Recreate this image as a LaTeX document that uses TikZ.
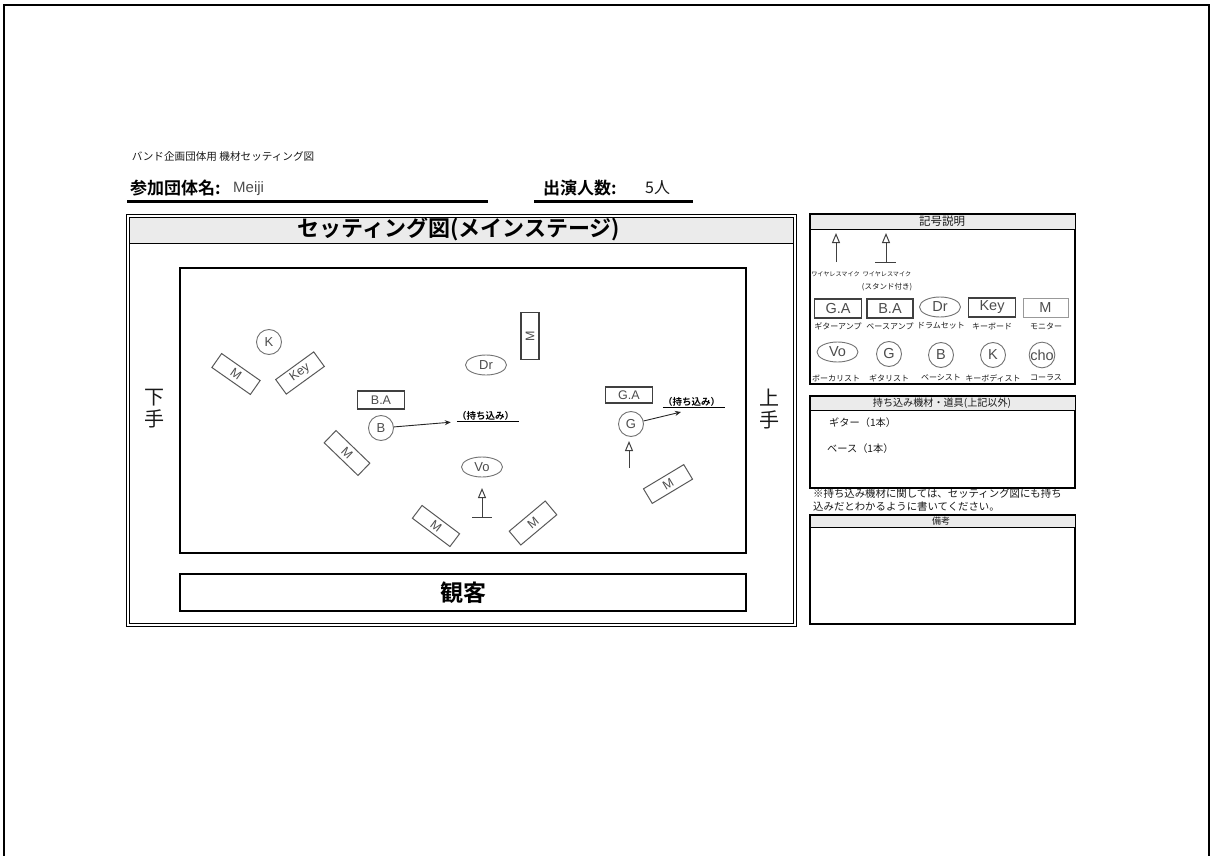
\documentclass[tikz,border=0pt]{standalone}
\usepackage{fontspec}
\setmainfont{Liberation Sans}
\newfontfamily\cjk{Noto Sans CJK JP}
\newfontfamily\cjkb{Noto Sans CJK JP Bold}
\usetikzlibrary{arrows.meta}
\usetikzlibrary{shapes.geometric}

\tikzset{
	txt/.style={font=\cjk\fontsize{#1}{#1}\selectfont, inner sep=0pt, text=black!90},
	gear/.style={draw=black!75, line width=1.2pt, inner sep=0pt, font=\fontsize{12.5}{14}\selectfont, text=black!70, minimum width=47pt, minimum height=18pt},
	player/.style={circle, draw=black!55, line width=0.9pt, inner sep=0pt, minimum size=25pt, font=\fontsize{13}{14}\selectfont, text=black!70},
	singer/.style={ellipse, draw=black!55, line width=0.9pt, inner sep=0pt, minimum width=41pt, minimum height=20pt, font=\fontsize{13}{14}\selectfont, text=black!70},
	legendfont/.style={font=\fontsize{14.5}{16}\selectfont},
	panel/.style={draw=black, line width=1.4pt},
	bar/.style={draw=black, line width=0.9pt, fill=black!8},
	mic/.style={draw=black!75, line width=1pt, -{Triangle[open, length=10pt, width=8pt]}},
	micstand/.style={draw=black!75, line width=1pt},
	carried/.style={font=\cjkb\fontsize{9.5}{10}\selectfont, inner sep=0pt, text width=62pt, minimum height=11pt, align=left},
	pointer/.style={draw=black!85, line width=0.9pt, -{Stealth[length=6pt, width=5pt]}}
}

\begin{document}
\begin{tikzpicture}[x=1pt, y=-1pt]
	\useasboundingbox (0,0) rectangle (1213,856);
	\draw[line width=1.2pt] (4,856) -- (4,5) -- (1209,5) -- (1209,856);

	\node[txt=10.6] (doc) at (223,156) {バンド企画団体用 機材セッティング図};
	\node[font=\cjkb\fontsize{17}{18}\selectfont, inner sep=0pt, anchor=west] (team) at (130,188) {参加団体名:};
	\node[font=\fontsize{15}{16}\selectfont, text=black!70, inner sep=0pt, anchor=west] (teamname) at (233,189) {Meiji};
	\node[font=\cjkb\fontsize{17}{18}\selectfont, inner sep=0pt, anchor=west] (count) at (543,188) {出演人数:};
	\node[txt=16, anchor=west] (countval) at (645,188) {5人};
	\draw[line width=2.4pt] (127,201.5) -- (488,201.5);
	\draw[line width=2.4pt] (534,201.5) -- (693,201.5);

	\draw[line width=0.7pt] (126,214) rectangle (796,626);
	\draw[line width=0.7pt] (129,217) rectangle (793,623);
	\draw[line width=0.7pt, fill=black!8] (129,217) rectangle (793,243);
	\node[font=\cjkb\fontsize{22}{23}\selectfont, inner sep=0pt] (title) at (459,229) {セッティング図(メインステージ)};

	\draw[line width=1.4pt] (180,268) rectangle (746,553);
	\draw[line width=1.4pt] (180,574) rectangle (746,611);
	\node[font=\cjkb\fontsize{23}{24}\selectfont, inner sep=0pt] (audience) at (463,593) {観客};
	\node[txt=20, align=center] (stageleft) at (154,409) {下\\[2pt]手};
	\node[txt=20, align=center] (stageright) at (769,409) {上\\[2pt]手};

	\node[player] (keyer) at (269,342) {K};
	\node[gear, draw=black!65, line width=1pt, minimum height=17pt, rotate=-35] (mona) at (236,374) {M};
	\node[gear, draw=black!65, line width=1pt, minimum height=18pt, rotate=36] (keys) at (300,373) {Key};
	\node[gear, minimum height=18pt] (bassamp) at (381,400) {B.A};
	\node[player] (bass) at (381,428) {B};
	\node[gear, draw=black!65, line width=1pt, minimum height=17pt, rotate=-44] (monb) at (347,453) {M};
	\node[singer] (drums) at (486,365) {Dr};
	\node[gear, minimum width=47pt, minimum height=18pt, rotate=90] (monc) at (530,336) {M};
	\node[singer] (vocal) at (482,467) {Vo};
	\node[gear, draw=black!65, line width=1pt, minimum height=16pt, rotate=-37] (mond) at (436,526) {M};
	\node[gear, draw=black!65, line width=1pt, minimum height=18pt, rotate=40] (mone) at (533,523) {M};
	\node[gear, minimum height=16pt] (guitaramp) at (629,395) {G.A};
	\node[player] (guitar) at (631,424) {G};
	\node[gear, draw=black!65, line width=1pt, minimum height=17pt, rotate=31] (monf) at (668,484) {M};

	\node[carried] (carryb) at (488,416) {（持ち込み）};
	\draw[line width=0.9pt] (carryb.south west) -- (carryb.south east);
	\node[carried] (carryg) at (694,402) {（持ち込み）};
	\draw[line width=0.9pt] (carryg.south west) -- (carryg.south east);
	\draw[pointer, shorten >=6pt] (bass) -- (carryb.south west);
	\coordinate (guitartip) at (681,412);
	\draw[pointer] (guitar) -- (guitartip);

	\coordinate (vocalmic) at (482,517);
	\coordinate (vocalmictop) at (482,488);
	\draw[mic] (vocalmic) -- (vocalmictop);
	\draw[micstand] (472,517) -- (492,517);
	\coordinate (guitarmic) at (629,468);
	\coordinate (guitarmictop) at (629,441);
	\draw[mic] (guitarmic) -- (guitarmictop);

	\draw[panel] (810,214) rectangle (1075,384);
	\draw[bar] (810,214) rectangle (1075,229);
	\node[txt=11.5] (legendhead) at (942,221.5) {記号説明};
	\coordinate (legmica) at (836,262);
	\coordinate (legmicatop) at (836,233);
	\draw[mic] (legmica) -- (legmicatop);
	\coordinate (legmicb) at (886,262);
	\coordinate (legmicbtop) at (886,233);
	\draw[mic] (legmicb) -- (legmicbtop);
	\draw[micstand] (875,262) -- (896,262);
	\node[txt=6.1] (legmicalab) at (835.5,274) {ワイヤレスマイク};
	\node[txt=6.1] (legmicblab) at (887,274) {ワイヤレスマイク};
	\node[txt=7.5] (legmicbsub) at (887,287) {(スタンド付き)};

	\node[gear, legendfont, minimum width=47pt, minimum height=19pt] (legga) at (838,308.5) {G.A};
	\node[gear, legendfont, minimum width=46pt, minimum height=19pt] (legba) at (890,308.5) {B.A};
	\node[singer, legendfont] (legdr) at (940,307) {Dr};
	\node[gear, legendfont, minimum width=47pt, minimum height=19pt] (legkey) at (992,307.5) {Key};
	\node[gear, legendfont, draw=black!40, line width=0.8pt, minimum width=45pt, minimum height=19pt] (legm) at (1045.5,307.5) {M};
	\node[txt=8] (leggalab) at (838,326) {ギターアンプ};
	\node[txt=8] (legbalab) at (890,326) {ベースアンプ};
	\node[txt=8] (legdrlab) at (941,326) {ドラムセット};
	\node[txt=8] (legkeylab) at (992,326) {キーボード};
	\node[txt=8] (legmlab) at (1046,326) {モニター};

	\node[singer, legendfont] (legvo) at (837.5,352) {Vo};
	\node[player, legendfont] (legg) at (889,354) {G};
	\node[player, legendfont] (legb) at (941,355) {B};
	\node[player, legendfont] (legk) at (993,355) {K};
	\node[player, legendfont] (legcho) at (1042,355) {cho};
	\node[txt=8] (legvolab) at (836,378) {ボーカリスト};
	\node[txt=8] (legglab) at (889,378) {ギタリスト};
	\node[txt=8] (legblab) at (941,378) {ベーシスト};
	\node[txt=8] (legklab) at (993,378) {キーボディスト};
	\node[txt=8] (legcholab) at (1046,378) {コーラス};

	\draw[panel] (810,396) rectangle (1075,488);
	\draw[bar] (810,396) rectangle (1075,410);
	\node[txt=10.1] (carryhead) at (942,403) {持ち込み機材・道具(上記以外)};
	\node[txt=10.2, anchor=west] (carryone) at (829,423) {ギター（1本）};
	\node[txt=10.2, anchor=west] (carrytwo) at (827,449) {ベース（1本）};
	\node[txt=10.4, anchor=west] (noteone) at (813,494) {※持ち込み機材に関しては、セッティング図にも持ち};
	\node[txt=10.4, anchor=west] (notetwo) at (813,507) {込みだとわかるように書いてください。};

	\draw[panel] (810,515) rectangle (1075,624);
	\draw[bar] (810,515) rectangle (1075,527);
	\node[txt=9] (remarks) at (941,521) {備考};
\end{tikzpicture}
\end{document}
